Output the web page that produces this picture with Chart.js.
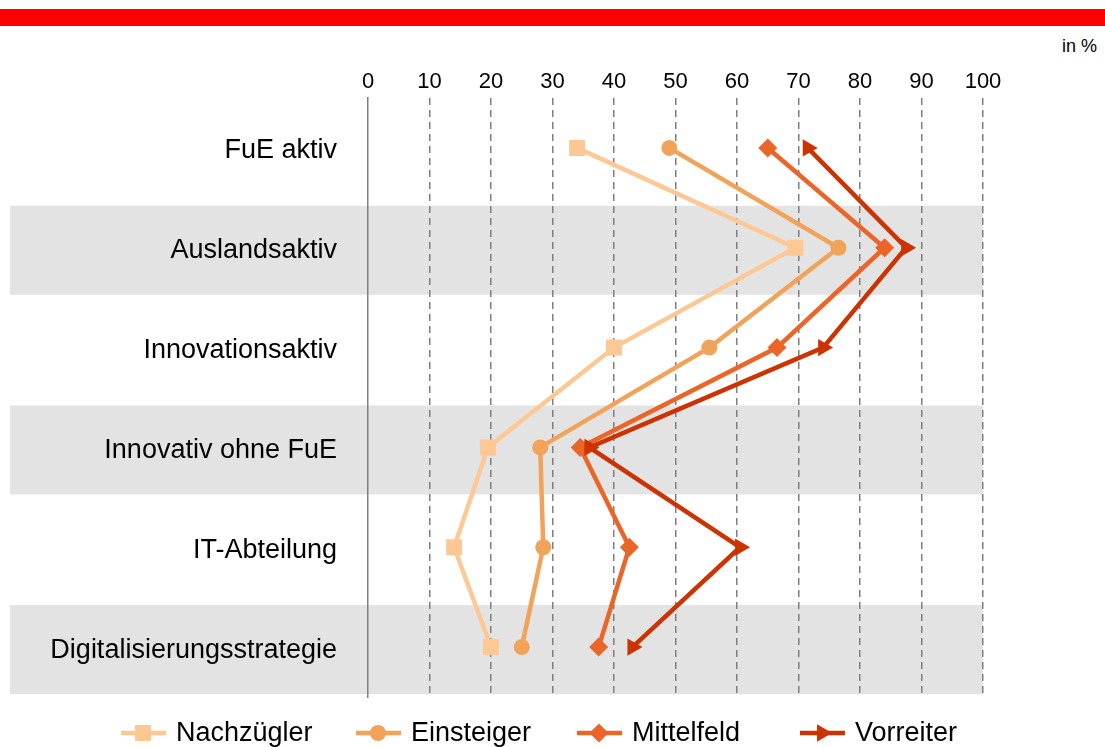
<!DOCTYPE html>
<html lang="de">
<head>
<meta charset="utf-8">
<script src="https://cdn.jsdelivr.net/npm/chart.js@4/dist/chart.umd.min.js"></script>
<style>
    html, body { margin: 0; padding: 0; background: #fff; }
    body { width: 1105px; height: 747px; position: relative; overflow: hidden; font-family: 'Liberation Sans', Arial, sans-serif; }
    #topbar { position: absolute; left: 0; top: 9px; width: 1105px; height: 17px; background: #ff0000; }
    #unit { position: absolute; right: 8px; top: 36px; font-size: 18px; color: #000; }
    #wrap { position: absolute; left: 0; top: 0; width: 1105px; height: 747px; }
</style>
</head>
<body>
<div id="topbar"></div>
<div id="unit">in %</div>
<div id="wrap"><canvas id="profilChart"></canvas></div>
<script>
// Kategorien (von oben nach unten)
const categories = ['FuE aktiv', 'Auslandsaktiv', 'Innovationsaktiv', 'Innovativ ohne FuE', 'IT-Abteilung', 'Digitalisierungsstrategie'];
const xTicks = [0, 10, 20, 30, 40, 50, 60, 70, 80, 90, 100];

// Anteile in %
const nachzuegler = [34, 69.5, 40, 19.5, 14, 20];
const einsteiger = [49, 76.5, 55.5, 28, 28.5, 25];
const mittelfeld = [65, 84, 66.5, 34.5, 42.5, 37.5];
const vorreiter = [71.5, 87.5, 74, 36, 60.5, 43];

const seriesNames = ['Nachzügler', 'Einsteiger', 'Mittelfeld', 'Vorreiter'];

const COLORS = ['#fdc894', '#f2a35a', '#eb6428', '#cc3300'];
const FONT = "'Liberation Sans', Arial, sans-serif";

// graue Bänder hinter jeder zweiten Zeile
const bandPlugin = {
    id: 'bands',
    beforeDraw(chart) {
        const ctx = chart.ctx;
        const y = chart.scales.y;
        ctx.save();
        ctx.fillStyle = '#e3e3e3';
        categories.forEach((c, i) => {
            if (i % 2 === 0) return;
            const cy = y.getPixelForValue(i);
            ctx.fillRect(10, cy - 42, chart.chartArea.right - 10, 89);
        });
        ctx.restore();
    }
};

// Legende mit Linie + Marker
const legendPlugin = {
    id: 'lineLegend',
    afterDraw(chart) {
        const ctx = chart.ctx;
        const starts = [121, 356, 577, 800];
        const ly = 733;
        ctx.save();
        chart.data.datasets.forEach((ds, i) => {
            const x0 = starts[i];
            ctx.strokeStyle = ds.borderColor;
            ctx.lineWidth = 4.5;
            ctx.beginPath();
            ctx.moveTo(x0, ly);
            ctx.lineTo(x0 + 45, ly);
            ctx.stroke();
            ctx.fillStyle = ds.pointBackgroundColor;
            ctx.strokeStyle = ds.pointBackgroundColor;
            Chart.helpers.drawPoint(ctx, {
                pointStyle: ds.pointStyle,
                rotation: ds.pointRotation || 0,
                radius: ds.pointRadius,
                borderWidth: 0
            }, x0 + 22, ly);
            ctx.fillStyle = '#000';
            ctx.font = '27px ' + FONT;
            ctx.textBaseline = 'middle';
            ctx.textAlign = 'left';
            ctx.fillText(ds.label, x0 + 55, ly + 1);
        });
        ctx.restore();
    }
};

function makeSet(i, data, style, radius, rotation, order) {
    return {
        label: seriesNames[i],
        data: data,
        borderColor: COLORS[i],
        backgroundColor: COLORS[i],
        pointBackgroundColor: COLORS[i],
        pointBorderColor: COLORS[i],
        pointBorderWidth: 0,
        borderWidth: 4.5,
        pointStyle: style,
        pointRadius: radius,
        pointHoverRadius: radius,
        pointRotation: rotation,
        tension: 0,
        order: order
    };
}

const ctx = document.getElementById('profilChart').getContext('2d');
new Chart(ctx, {
    type: 'line',
    data: {
        labels: categories,
        datasets: [
            makeSet(0, nachzuegler, 'rect', 11.3, 0, 4),
            makeSet(1, einsteiger, 'circle', 8, 0, 3),
            makeSet(2, mittelfeld, 'rectRot', 9.5, 0, 2),
            makeSet(3, vorreiter, 'triangle', 10, 90, 1)
        ]
    },
    options: {
        indexAxis: 'y',
        responsive: true,
        maintainAspectRatio: false,
        animation: false,
        layout: { padding: { top: 0, left: 0, right: 122, bottom: 50 } },
        plugins: {
            legend: { display: false },
            tooltip: { enabled: false }
        },
        scales: {
            x: {
                type: 'linear',
                position: 'top',
                min: 0,
                max: 100,
                afterBuildTicks: s => { s.ticks = xTicks.map(v => ({ value: v })); },
                afterFit: s => { s.height = 98; },
                grid: {
                    color: c => (c.tick && c.tick.value === 0) ? 'rgba(0,0,0,0)' : '#7f7f7f',
                    lineWidth: 1.5,
                    drawTicks: false
                },
                border: { display: false, dash: [7, 5] },
                ticks: { color: '#000', font: { family: FONT, size: 22 }, padding: 3 }
            },
            y: {
                type: 'category',
                offset: true,
                afterFit: s => { s.width = 368; },
                grid: { display: false },
                border: { display: true, color: '#808080', width: 1.5 },
                ticks: { color: '#000', font: { family: FONT, size: 27 }, padding: 23, labelOffset: 3 }
            }
        }
    },
    plugins: [bandPlugin, legendPlugin]
});
</script>
</body>
</html>
